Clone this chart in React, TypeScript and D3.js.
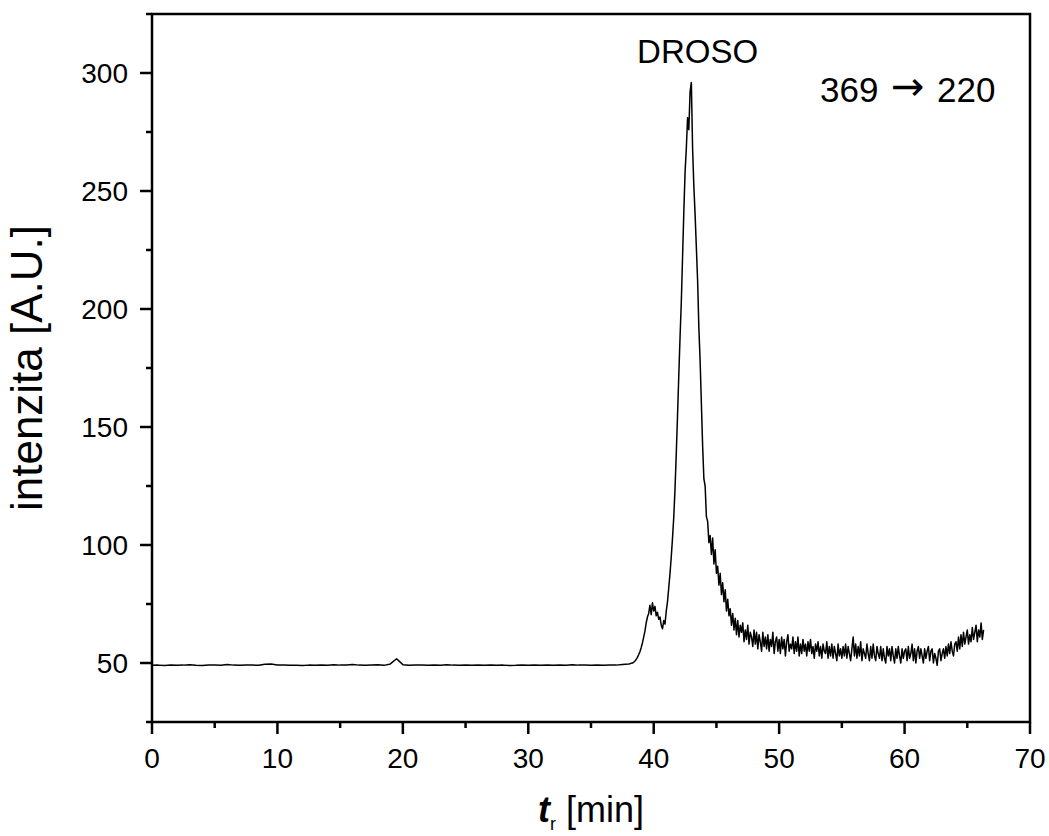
import React from 'react';
import * as d3 from 'd3';

// retention time sampling (min) for each recorded segment
const baselineStart = 0;
const baselineStep = 0.5;
const baselineValues = [
  49.0, 49.1, 48.9, 49.2, 49.0, 49.1, 49.3, 49.0, 48.9, 49.2,
  49.1, 49.0, 49.4, 49.1, 49.0, 49.2, 49.1, 49.0, 49.5, 49.6,
  49.2, 49.1, 49.0, 49.0, 48.9, 49.1, 49.0, 49.2, 49.0, 49.3,
  49.1, 49.2, 49.4, 49.1, 49.0, 49.2, 49.3, 49.0, 49.6, 51.8,
  49.3, 49.0, 49.1, 49.2, 49.0, 49.1, 49.0, 49.3, 49.1, 49.0,
  49.2, 49.0, 49.1, 49.0, 49.2, 49.0, 49.1, 48.9, 49.0, 49.2,
  49.0, 49.1, 49.0, 49.2, 49.0, 49.1, 49.0, 49.3, 49.1, 49.2,
  49.0, 49.1, 49.0, 49.2, 49.1, 49.4, 49.6,
];

const peakStart = 38.1;
const peakStep = 0.1;
const peakValues = [
  49.7, 49.9, 50.0, 50.3, 50.8, 51.5, 52.4, 53.5, 54.8, 56.5,
  58.5, 61.0, 63.5, 67.0, 69.5, 71.0, 74.5, 70.5, 75.5, 72.0,
  74.0, 70.0, 71.5, 68.5, 69.5, 66.0, 64.5, 68.0, 66.5, 72.0,
  76.0, 82.0, 88.0, 95.0, 103.0, 112.0, 124.0, 139.0, 155.0, 172.0,
  188.0, 203.0, 222.0, 241.0, 258.0, 268.0, 281.0, 276.0, 292.0, 296.0,
  268.0, 252.0, 240.0, 226.0, 212.0, 192.0, 178.0, 160.0, 142.0, 128.0,
];

const tailStart = 44.1;
const tailStep = 0.1;
const tailValues = [
  125, 112, 110, 101, 104, 96, 103, 92, 98, 88,
  91, 83, 88, 79, 84, 76, 81, 72, 77, 70,
  73, 66, 71, 64, 69, 62, 68, 61, 66, 63,
  67, 59, 64, 60, 66, 58, 63, 61, 57, 64,
  58, 63, 56, 62, 59, 55, 63, 57, 61, 56,
  62, 55, 60, 57, 63, 54, 59, 61, 55, 60,
  54, 61, 56, 60, 53, 59, 62, 55, 58, 56,
  61, 54, 59, 55, 61, 53, 58, 54, 60, 55,
  58, 53, 59, 55, 60, 54, 57, 52, 58, 55,
  59, 53, 57, 52, 58, 55, 54, 59, 52, 57,
  53, 58, 52, 57, 54, 51, 58, 53, 56, 52,
  57, 53, 58, 52, 57, 54, 51, 56, 61, 53,
  58, 52, 57, 53, 59, 51, 56, 54, 52, 58,
  54, 51, 57, 52, 58, 53, 51, 57, 54, 52,
  57, 51, 56, 52, 50, 57, 53, 56, 51, 57,
  53, 50, 56, 52, 57, 53, 50, 56, 52, 55,
  56, 51, 57, 52, 54, 58, 51, 56, 50, 55,
  57, 52, 56, 53, 50, 56, 52, 55, 57, 51,
  55, 56, 50, 54, 52, 49, 55, 56, 51, 54,
  56, 52, 57, 53, 58, 54, 59, 55, 53, 58,
  59, 55, 61, 56, 62, 57, 63, 58, 61, 64,
  58, 62, 59, 65, 60, 63, 66, 59, 64, 61,
  67, 60, 64,
];

const xMajorTicks = [0, 10, 20, 30, 40, 50, 60, 70];
const yMajorTicks = [50, 100, 150, 200, 250, 300];

const peakLabel = 'DROSO';
const transitionFrom = '369';
const transitionTo = '220';

const width = 1049;
const height = 836;
const margin = { left: 152, right: 19, top: 14, bottom: 114 };
const font = 'Arial, "Liberation Sans", sans-serif';

type Pt = { t: number; v: number };

const segment = (start: number, step: number, vals: number[]): Pt[] =>
  vals.map((v, i) => ({ t: +(start + i * step).toFixed(2), v }));

const App = () => {
  const data: Pt[] = [
    ...segment(baselineStart, baselineStep, baselineValues),
    ...segment(peakStart, peakStep, peakValues),
    ...segment(tailStart, tailStep, tailValues),
  ];

  const x = d3.scaleLinear().domain([0, 70]).range([margin.left, width - margin.right]);
  const y = d3.scaleLinear().domain([25, 325]).range([height - margin.bottom, margin.top]);

  const line = d3.line<Pt>().x(d => x(d.t)).y(d => y(d.v));

  const x0 = x.range()[0];
  const x1 = x.range()[1];
  const y0 = y.range()[0];
  const y1 = y.range()[1];

  const xMinor = d3.range(5, 70, 10);
  const yMinor = d3.range(25, 326, 50);

  return (
    <svg width={width} height={height} style={{ position: 'absolute', left: 0, top: 0, background: '#fff' }}>
      <path d={line(data) ?? ''} fill="none" stroke="#000" strokeWidth={1.5} strokeLinejoin="round" />

      {/* frame */}
      <rect x={x0} y={y1} width={x1 - x0} height={y0 - y1} fill="none" stroke="#000" strokeWidth={2.5} />

      {/* x ticks */}
      {xMajorTicks.map(t => (
        <g key={'xm' + t}>
          <line x1={x(t)} x2={x(t)} y1={y0} y2={y0 + 12} stroke="#000" strokeWidth={2.5} />
          <text x={x(t)} y={y0 + 46} textAnchor="middle" fontFamily={font} fontSize={28}>{t}</text>
        </g>
      ))}
      {xMinor.map(t => (
        <line key={'xn' + t} x1={x(t)} x2={x(t)} y1={y0} y2={y0 + 6} stroke="#000" strokeWidth={2.5} />
      ))}

      {/* y ticks */}
      {yMajorTicks.map(v => (
        <g key={'ym' + v}>
          <line x1={x0 - 12} x2={x0} y1={y(v)} y2={y(v)} stroke="#000" strokeWidth={2.5} />
          <text x={x0 - 24} y={y(v)} dy="0.36em" textAnchor="end" fontFamily={font} fontSize={28}>{v}</text>
        </g>
      ))}
      {yMinor.map(v => (
        <line key={'yn' + v} x1={x0 - 6} x2={x0} y1={y(v)} y2={y(v)} stroke="#000" strokeWidth={2.5} />
      ))}

      {/* axis titles */}
      <text
        transform={`translate(42, ${(y0 + y1) / 2}) rotate(-90)`}
        textAnchor="middle"
        fontFamily={font}
        fontSize={44}
      >
        intenzita [A.U.]
      </text>
      <text x={(x0 + x1) / 2} y={822} textAnchor="middle" fontFamily={font} fontSize={36}>
        <tspan fontStyle="italic" fontWeight="bold">t</tspan>
        <tspan fontSize={18} dy={8}>r</tspan>
        <tspan dy={-8}> [min]</tspan>
      </text>

      {/* annotations */}
      <text x={x(43.5)} y={63} textAnchor="middle" fontFamily={font} fontSize={33}>{peakLabel}</text>
      <text x={820} y={102} fontFamily={font} fontSize={35}>{transitionFrom}</text>
      <text x={891} y={100} fontFamily={'"DejaVu Sans", sans-serif'} fontSize={40}>{'\u2192'}</text>
      <text x={937} y={102} fontFamily={font} fontSize={35}>{transitionTo}</text>
    </svg>
  );
};

export default App;
